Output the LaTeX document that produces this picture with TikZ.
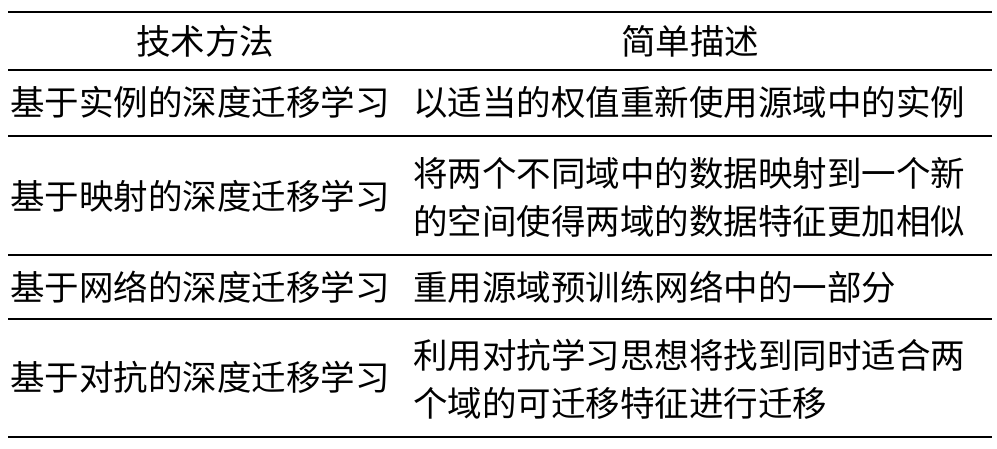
\documentclass[tikz,border=0pt]{standalone}
\usepackage{fontspec}
\newfontfamily\cjk{Noto Sans CJK SC}
\begin{document}
\begin{tikzpicture}[x=1pt,y=1pt,
  cell/.style={anchor=west,inner sep=0pt,font=\cjk\fontsize{34.5}{49}\selectfont,align=left},
  head/.style={anchor=center,inner sep=0pt,font=\cjk\fontsize{34.5}{49}\selectfont},
  toprule/.style={line width=2.6pt},
  midrule/.style={line width=1.2pt}]
\useasboundingbox (0,0) rectangle (997,449);
\draw[toprule] (8,437) -- (992,437);
\draw[midrule] (8,379) -- (992,379);
\draw[midrule] (8,313) -- (992,313);
\draw[midrule] (8,194) -- (992,194);
\draw[midrule] (8,130) -- (992,130);
\draw[toprule] (8,12) -- (992,12);
\node[head] (h1) at (205,408) {技术方法};
\node[head] (h2) at (690,408) {简单描述};
\node[cell] (a1) at (10,347) {基于实例的深度迁移学习};
\node[cell] (b1) at (413,347) {以适当的权值重新使用源域中的实例};
\node[cell] (a2) at (10,253) {基于映射的深度迁移学习};
\node[cell] (b2) at (413,276) {将两个不同域中的数据映射到一个新};
\node[cell] (b2b) at (413,228) {的空间使得两域的数据特征更加相似};
\node[cell] (a3) at (10,162) {基于网络的深度迁移学习};
\node[cell] (b3) at (413,162) {重用源域预训练网络中的一部分};
\node[cell] (a4) at (10,72) {基于对抗的深度迁移学习};
\node[cell] (b4) at (413,94) {利用对抗学习思想将找到同时适合两};
\node[cell] (b4b) at (413,46) {个域的可迁移特征进行迁移};
\end{tikzpicture}
\end{document}
